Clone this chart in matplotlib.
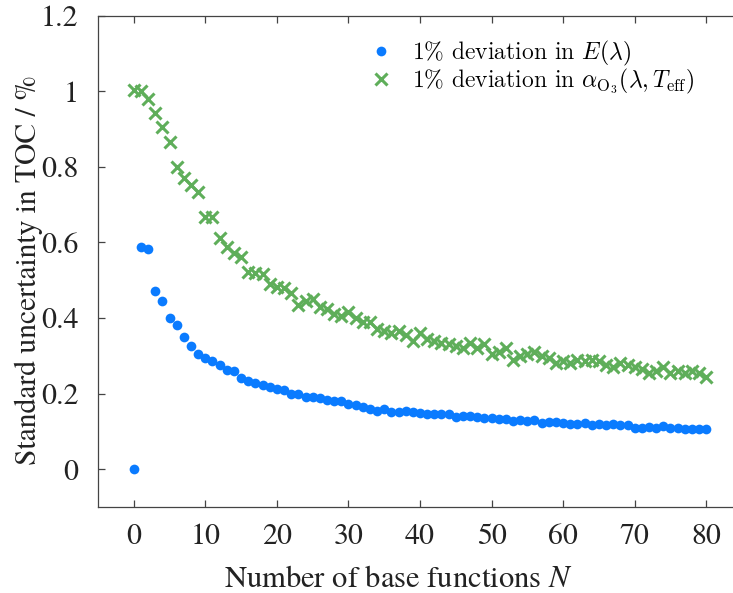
import matplotlib
matplotlib.use('Agg')
import matplotlib.pyplot as plt
from matplotlib.ticker import FuncFormatter

plt.rcParams['font.family'] = ['TeX Gyre Termes', 'Liberation Serif', 'DejaVu Serif']
plt.rcParams['mathtext.fontset'] = 'cm'

# number of base functions
n_base = list(range(0, 81))

# 1% deviation in E(lambda)
unc_E = [0.0, 0.588, 0.582, 0.472, 0.446, 0.401, 0.382, 0.350, 0.325, 0.306,
         0.295, 0.285, 0.275, 0.262, 0.260, 0.240, 0.232, 0.228, 0.222, 0.218,
         0.212, 0.210, 0.200, 0.198, 0.192, 0.190, 0.188, 0.182, 0.180, 0.180,
         0.172, 0.170, 0.165, 0.158, 0.155, 0.158, 0.150, 0.152, 0.155, 0.152,
         0.148, 0.147, 0.145, 0.147, 0.145, 0.138, 0.140, 0.140, 0.137, 0.136,
         0.135, 0.133, 0.133, 0.128, 0.130, 0.128, 0.130, 0.122, 0.125, 0.125,
         0.123, 0.120, 0.120, 0.122, 0.118, 0.120, 0.118, 0.120, 0.118, 0.118,
         0.110, 0.110, 0.112, 0.110, 0.113, 0.108, 0.108, 0.107, 0.107, 0.105,
         0.105]

# 1% deviation in alpha_O3(lambda, T_eff)
unc_alpha = [1.003, 1.000, 0.980, 0.943, 0.904, 0.865, 0.800, 0.770, 0.752, 0.732,
             0.668, 0.668, 0.612, 0.588, 0.572, 0.562, 0.522, 0.518, 0.515, 0.490,
             0.482, 0.480, 0.465, 0.435, 0.445, 0.450, 0.430, 0.425, 0.410, 0.405,
             0.415, 0.400, 0.390, 0.390, 0.370, 0.365, 0.360, 0.365, 0.355, 0.340,
             0.360, 0.345, 0.340, 0.335, 0.330, 0.325, 0.320, 0.335, 0.320, 0.330,
             0.305, 0.310, 0.320, 0.290, 0.300, 0.305, 0.310, 0.300, 0.295, 0.280,
             0.285, 0.280, 0.290, 0.285, 0.290, 0.285, 0.275, 0.270, 0.280, 0.275,
             0.270, 0.265, 0.255, 0.260, 0.270, 0.255, 0.260, 0.255, 0.260, 0.255,
             0.245]

fig = plt.figure(figsize=(7.33, 5.93), dpi=100)
ax = fig.add_axes([98/733, 86/593, 644/733, 491.5/593])

ax.plot(n_base, unc_E, linestyle='none', marker='o', ms=7, color='#0a7bff',
        mec='none', label=r'1% deviation in $E(\lambda)$')
ax.plot(n_base, unc_alpha, linestyle='none', marker='x', ms=8.5, mew=2.2,
        color='#5fae5a',
        label=r'1% deviation in $\alpha_{\mathrm{O}_3}(\lambda, T_{\mathrm{eff}})$')

ax.set_xlim(-5, 85)
ax.set_ylim(-0.1, 1.2)
ax.set_xticks(range(0, 81, 10))
ax.set_yticks([0, 0.2, 0.4, 0.6, 0.8, 1.0, 1.2])
ax.yaxis.set_major_formatter(FuncFormatter(lambda v, p: '%g' % v))

ax.tick_params(direction='in', top=True, right=True, length=5, width=0.9,
               color='#444444', labelsize=21.5, labelcolor='#222222')
ax.tick_params(axis='x', pad=12)
ax.tick_params(axis='y', pad=14)
for s in ax.spines.values():
    s.set_color('#444444')
    s.set_linewidth(0.9)

ax.set_xlabel(r'Number of base functions $N$', fontsize=22, color='#222222',
              math_fontfamily='stix')
ax.xaxis.set_label_coords(0.466, -0.12)
ax.set_ylabel('Standard uncertainty in TOC / %', fontsize=21.3, color='#222222')
ax.yaxis.set_label_coords(-0.085, 0.482)

ax.legend(loc='upper left', bbox_to_anchor=(0.385, 0.995), frameon=False,
          prop={'family': 'Latin Modern Roman', 'size': 17},
          handletextpad=0.7, labelspacing=-0.08, handlelength=1.2)

fig.savefig('out.png', dpi=100)
